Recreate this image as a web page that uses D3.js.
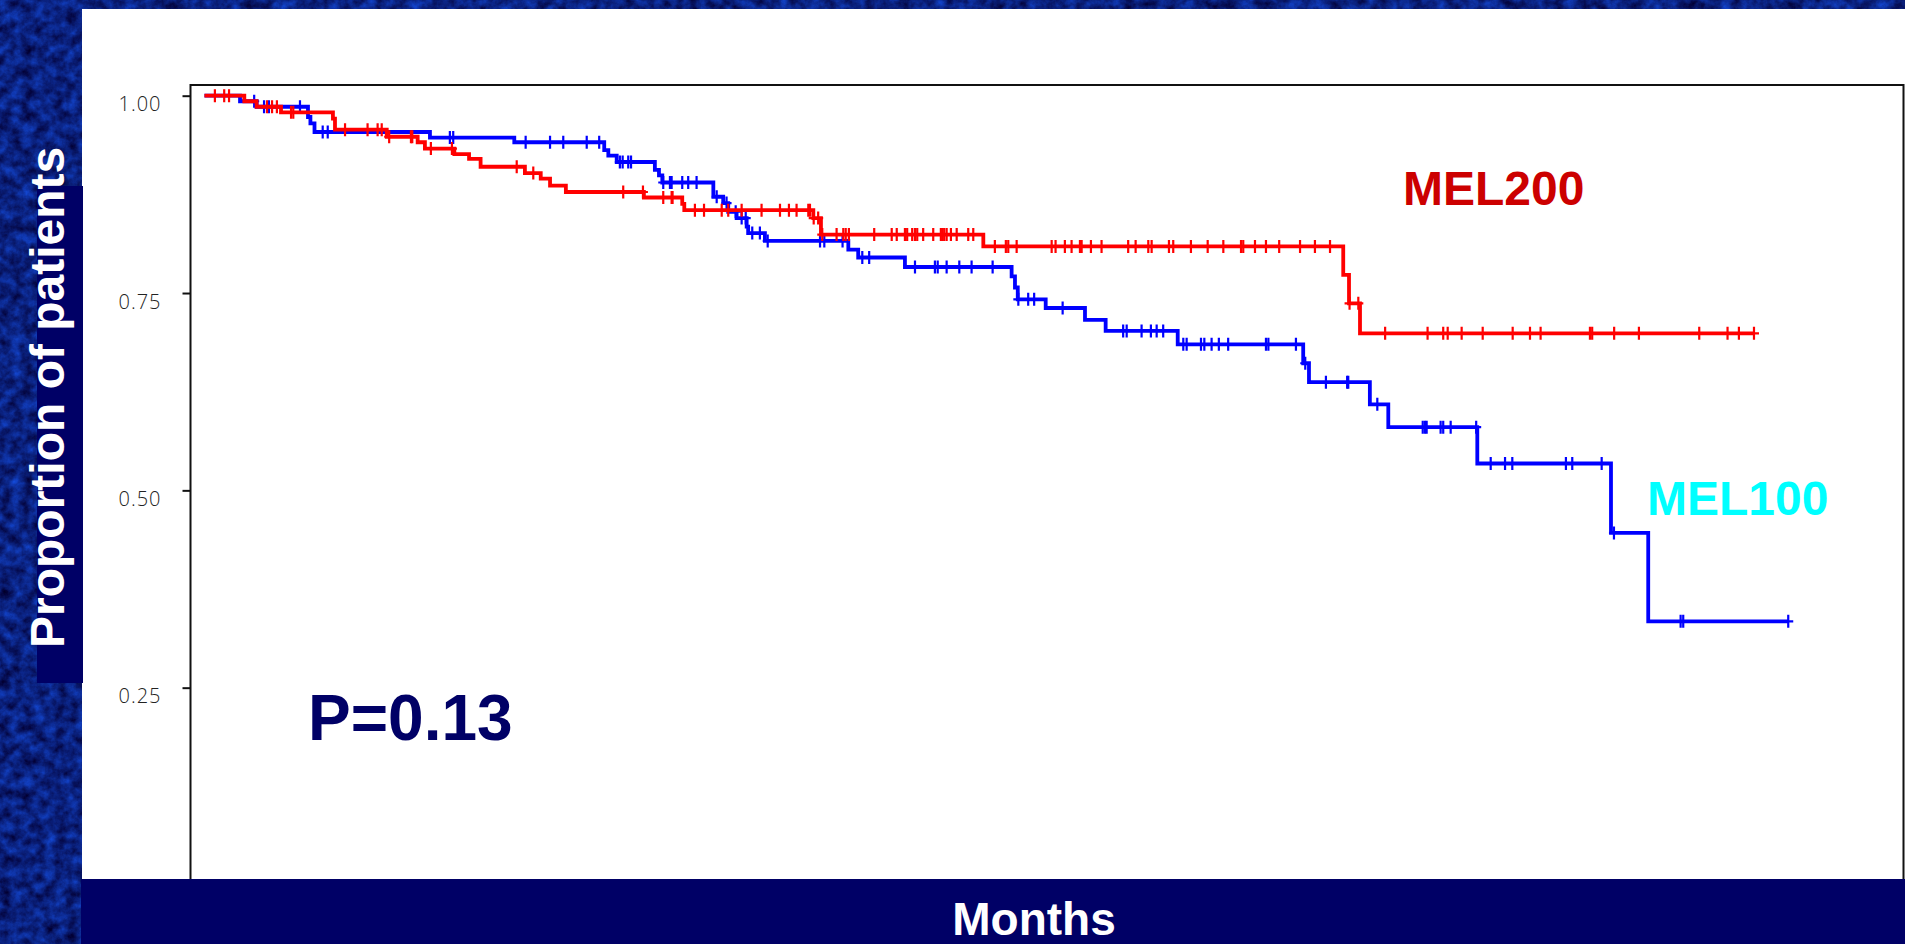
<!DOCTYPE html>
<html>
<head>
<meta charset="utf-8">
<script src="https://cdn.jsdelivr.net/npm/d3@7"></script>
<style>
  html, body { margin: 0; padding: 0; background: #0a2476; overflow: hidden; }
  svg { display: block; }
</style>
</head>
<body>
<svg id="chart" width="1905" height="944"></svg>
<script>
// ---- Kaplan–Meier data (time in months, survival proportion) ----
const mel200EventTimes = [2.14, 2.80, 4.11, 6.90, 7.01, 9.79, 11.45, 11.84, 13.42, 14.21, 14.83, 17.21, 18.06, 18.56, 19.41, 23.60, 25.66, 25.77, 32.70, 33.11, 41.83, 61.16, 61.47, 62.06];
const mel200Survival   = [0.993, 0.986, 0.979, 0.971, 0.957, 0.948, 0.941, 0.933, 0.926, 0.920, 0.910, 0.902, 0.895, 0.886, 0.878, 0.871, 0.863, 0.855, 0.845, 0.824, 0.809, 0.773, 0.737, 0.699];
const mel200CensorTimes = [0.56, 1.06, 1.32, 3.36, 3.63, 3.89, 4.65, 4.77, 7.55, 8.76, 9.30, 9.52, 9.92, 11.09, 11.16, 12.16, 13.29, 16.77, 17.66, 22.49, 23.55, 24.64, 25.09, 25.14, 26.34, 26.83, 27.78, 28.13, 28.85, 29.92, 30.91, 31.39, 31.80, 32.43, 32.52, 32.72, 32.96, 33.18, 33.95, 34.31, 34.44, 34.61, 35.97, 36.91, 37.18, 37.62, 37.74, 38.01, 38.16, 38.28, 38.60, 39.14, 39.55, 39.64, 39.73, 39.86, 40.09, 40.40, 41.02, 41.29, 42.45, 43.04, 43.17, 43.62, 45.50, 45.71, 46.21, 46.57, 47.02, 47.11, 47.61, 48.18, 49.61, 50.01, 50.69, 50.87, 51.80, 52.03, 52.98, 53.88, 54.72, 55.67, 55.79, 56.42, 57.01, 57.72, 58.84, 59.64, 60.45, 61.50, 61.97, 63.41, 65.69, 66.53, 66.77, 67.52, 68.65, 70.26, 71.19, 71.76, 74.41, 74.53, 75.71, 77.04, 80.28, 81.80, 82.41, 83.22];

const mel100EventTimes = [1.91, 2.80, 5.56, 5.69, 5.91, 12.11, 16.64, 21.47, 21.69, 22.14, 24.19, 24.41, 24.59, 27.33, 27.86, 28.13, 28.58, 29.12, 29.20, 30.10, 34.58, 35.11, 37.62, 43.35, 43.53, 43.68, 45.18, 47.29, 48.40, 52.27, 59.01, 59.32, 62.59, 63.58, 68.36, 75.54, 77.54];
const mel100Survival   = [0.993, 0.986, 0.973, 0.965, 0.954, 0.947, 0.941, 0.931, 0.924, 0.916, 0.906, 0.899, 0.890, 0.872, 0.864, 0.853, 0.845, 0.834, 0.826, 0.816, 0.805, 0.795, 0.783, 0.771, 0.757, 0.742, 0.731, 0.716, 0.702, 0.685, 0.661, 0.637, 0.609, 0.580, 0.534, 0.446, 0.334];
const mel100CensorTimes = [2.67, 3.20, 3.46, 5.13, 6.35, 6.62, 13.18, 13.36, 17.25, 18.56, 19.27, 20.53, 21.20, 22.31, 22.46, 22.76, 22.91, 24.64, 25.00, 25.09, 25.66, 25.98, 26.43, 27.51, 28.04, 28.53, 28.85, 29.07, 29.42, 29.83, 30.25, 33.06, 33.29, 34.27, 35.33, 35.70, 38.16, 39.23, 39.38, 39.86, 40.54, 41.20, 42.33, 43.71, 44.24, 44.56, 46.09, 49.34, 49.53, 50.33, 50.83, 51.14, 51.49, 52.57, 52.75, 53.52, 53.70, 54.09, 54.48, 54.98, 57.01, 57.14, 58.62, 59.12, 60.23, 61.37, 61.43, 62.99, 65.43, 65.55, 65.64, 66.39, 66.53, 66.93, 68.30, 69.08, 69.85, 70.24, 73.12, 73.46, 75.04, 75.70, 79.28, 79.42, 85.06];

const yTickValues = [0.25, 0.50, 0.75, 1.00];
const yTickLabels = ["0.25", "0.50", "0.75", "1.00"];

const seriesNames = ["MEL200", "MEL100"];
const pValueText = "P=0.13";
const xTitle = "Months";
const yTitle = "Proportion of patients";

// ---- layout ----
const svg = d3.select("#chart");
const W = 1905, H = 944;
const frame = { left: 190.5, top: 85, right: 1903.5 };

const x = d3.scaleLinear().domain([-0.75, 91.25]).range([frame.left, frame.right]);
const y = d3.scaleLinear().domain([0, 1]).range([885, 95.7]);

// grainy navy slide background
const defs = svg.append("defs");
const grain = defs.append("filter").attr("id", "grain")
  .attr("x", 0).attr("y", 0).attr("width", "100%").attr("height", "100%")
  .attr("color-interpolation-filters", "sRGB");
grain.append("feTurbulence").attr("type", "fractalNoise")
  .attr("baseFrequency", 0.09).attr("numOctaves", 4).attr("seed", 11).attr("result", "n");
grain.append("feColorMatrix").attr("type", "matrix")
  .attr("values", "0.08 0 0 0 0.0  0.34 0 0 0 -0.04  0.75 0 0 0 0.12  0 0 0 0 1");
svg.append("rect").attr("width", W).attr("height", H).attr("filter", "url(#grain)");

// white chart panel
svg.append("rect").attr("x", 82).attr("y", 9).attr("width", W - 82).attr("height", H - 9).attr("fill", "#ffffff");

// y-axis title band
svg.append("rect").attr("x", 37).attr("y", 186).attr("width", 46).attr("height", 497).attr("fill", "#000066");
svg.append("text")
  .attr("transform", "translate(64,648) rotate(-90)")
  .attr("font-family", "Liberation Sans, Arial, sans-serif")
  .attr("font-weight", "bold").attr("font-size", 48).attr("fill", "#ffffff")
  .text(yTitle);

// y axis
const yAxis = d3.axisLeft(y).tickValues(yTickValues)
  .tickFormat((d, i) => yTickLabels[i]).tickSize(8).tickPadding(0);
const gy = svg.append("g").attr("transform", `translate(${frame.left},0)`).call(yAxis);
gy.select(".domain").remove();
gy.selectAll(".tick line").attr("stroke", "#111").attr("stroke-width", 2);
gy.selectAll(".tick text")
  .attr("x", -29).attr("dy", 15)
  .attr("font-family", "Open Sans, Liberation Sans, sans-serif")
  .attr("font-weight", 300).attr("font-size", 20).attr("fill", "#222")
  .attr("letter-spacing", 1);

// plot frame
svg.append("path")
  .attr("d", `M${frame.left},${H}V${frame.top}H${frame.right}V${H}`)
  .attr("fill", "none").attr("stroke", "#111").attr("stroke-width", 2);

// survival curves
const stepLine = d3.line().x(d => x(d[0])).y(d => y(d[1])).curve(d3.curveStepAfter);

function drawSeries(times, surv, censors, color) {
  const lastT = Math.max(d3.max(censors), d3.max(times));
  const pts = [[0, 1]].concat(times.map((t, i) => [t, surv[i]]), [[lastT, surv[surv.length - 1]]]);
  svg.append("path").attr("d", stepLine(pts))
    .attr("fill", "none").attr("stroke", color).attr("stroke-width", 3.8);
  const levelAt = t => {
    const i = d3.bisectRight(times, t);
    return i === 0 ? 1 : surv[i - 1];
  };
  svg.append("g").selectAll("path").data(censors).join("path")
    .attr("d", t => {
      const cx = x(t), cy = y(levelAt(t));
      return `M${cx},${cy - 6.5}V${cy + 6.5}M${cx - 5},${cy}H${cx + 5}`;
    })
    .attr("stroke", color).attr("stroke-width", 2.2).attr("fill", "none");
}

drawSeries(mel100EventTimes, mel100Survival, mel100CensorTimes, "#0000ff");
drawSeries(mel200EventTimes, mel200Survival, mel200CensorTimes, "#ff0000");

// series labels and p-value
const boldFont = "Liberation Sans, Arial, sans-serif";
svg.append("text").attr("x", 1403).attr("y", 205)
  .attr("font-family", boldFont).attr("font-weight", "bold").attr("font-size", 48)
  .attr("fill", "#cc0000").text(seriesNames[0]);
svg.append("text").attr("x", 1647).attr("y", 515)
  .attr("font-family", boldFont).attr("font-weight", "bold").attr("font-size", 48)
  .attr("fill", "#00ffff").text(seriesNames[1]);
svg.append("text").attr("x", 308).attr("y", 740)
  .attr("font-family", boldFont).attr("font-weight", "bold").attr("font-size", 64)
  .attr("fill", "#000066").text(pValueText);

// x-axis title band
svg.append("rect").attr("x", 81).attr("y", 879).attr("width", W - 81).attr("height", H - 879).attr("fill", "#000066");
svg.append("text").attr("x", 1034).attr("y", 935).attr("text-anchor", "middle")
  .attr("font-family", boldFont).attr("font-weight", "bold").attr("font-size", 46)
  .attr("fill", "#ffffff").text(xTitle);
</script>
</body>
</html>
